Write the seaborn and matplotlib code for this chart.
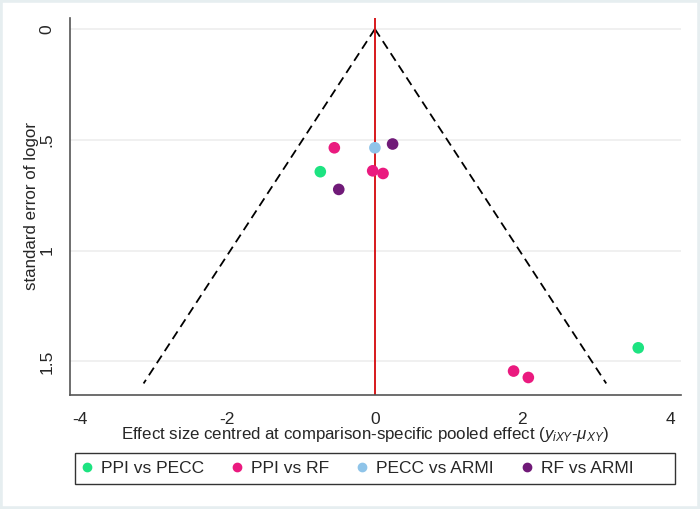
import numpy as np
import pandas as pd
import seaborn as sns
import matplotlib.pyplot as plt
from matplotlib.patches import Rectangle

# comparison groups and values
comparisons = ["PPI vs PECC", "PPI vs RF", "PECC vs ARMI", "RF vs ARMI"]
colors = ["#1de381", "#ea1a7f", "#8fc4e9", "#701a78"]

comparison = ["PPI vs PECC", "PPI vs PECC",
              "PPI vs RF", "PPI vs RF", "PPI vs RF", "PPI vs RF", "PPI vs RF",
              "PECC vs ARMI",
              "RF vs ARMI", "RF vs ARMI"]
effect = [-0.74, 3.57, -0.55, -0.03, 0.11, 1.88, 2.08, 0.0, 0.24, -0.49]
se = [0.644, 1.439, 0.536, 0.640, 0.652, 1.544, 1.573, 0.536, 0.519, 0.724]

df = pd.DataFrame({"comparison": comparison, "effect": effect, "se": se})

sns.set_style("white")
plt.rcParams['font.family'] = ['Liberation Sans', 'DejaVu Sans']
plt.rcParams['mathtext.fontset'] = 'custom'
plt.rcParams['mathtext.it'] = 'Liberation Sans:italic'
plt.rcParams['mathtext.rm'] = 'Liberation Sans'

fig = plt.figure(figsize=(7, 5.09), dpi=100, facecolor="white")
ax = fig.add_axes([0.0993, 0.224, 0.8736, 0.7407])

# horizontal grid lines
for g in [0, 0.5, 1, 1.5]:
    ax.axhline(g, color="#eeeeee", lw=1.2, zorder=0)

# funnel (pseudo 95% limits)
se_max = 1.6
ax.plot([0, -1.96 * se_max], [0, se_max], ls=(0, (5, 3)), color="black", lw=1.3, zorder=1)
ax.plot([0, 1.96 * se_max], [0, se_max], ls=(0, (5, 3)), color="black", lw=1.3, zorder=1)
ax.axvline(0, color="#d7191c", lw=1.4, zorder=1)

sns.scatterplot(data=df, x="effect", y="se", hue="comparison", hue_order=comparisons,
                palette=colors, s=70, edgecolor="none", ax=ax, zorder=3, legend=False)

ax.set_xlim(-4.14, 4.15)
ax.set_ylim(1.652, -0.05)
ax.set_xticks([-4, -2, 0, 2, 4])
ax.set_xticklabels(["-4", "-2", "0", "2", "4"])
ax.set_yticks([0, 0.5, 1, 1.5])
ax.set_yticklabels(["0", ".5", "1", "1.5"], rotation=90, va="center")
ax.tick_params(axis="both", length=7, width=1, color="#444444", labelsize=12.5, direction="out")
ax.tick_params(axis="x", pad=5)
ax.tick_params(axis="y", pad=4)

for side in ["top", "right"]:
    ax.spines[side].set_visible(False)
for side in ["left", "bottom"]:
    ax.spines[side].set_color("#555555")
    ax.spines[side].set_linewidth(1.2)

ax.set_xlabel("Effect size centred at comparison-specific pooled effect ($y_{iXY}$-$\\mu_{XY}$)",
              fontsize=12.2, labelpad=-1)
ax.xaxis.label.set_x(0.484)
ax.set_ylabel("standard error of logor", fontsize=12.2, labelpad=0)

# legend: items without frame, box drawn separately (Stata leaves right padding)
handles = [plt.Line2D([], [], marker="o", ls="", color=c, markersize=6) for c in colors]
fig.legend(handles, comparisons, loc="center left", bbox_to_anchor=(0.1114, 0.080),
           ncol=4, fontsize=12.5, frameon=False, borderpad=0, borderaxespad=0,
           handletextpad=0.31, columnspacing=1.4, handlelength=1.0)
fig.patches.append(Rectangle((0.107, 0.0491), 0.857, 0.0615, transform=fig.transFigure,
                             fill=False, edgecolor="#333333", lw=1.0))

# faint outer frame like the Stata graph region
fig.patches.append(Rectangle((0, 0), 1, 1, transform=fig.transFigure, fill=False,
                             edgecolor="#e6eef0", lw=4))

fig.savefig("out.png", dpi=100, facecolor="white")
